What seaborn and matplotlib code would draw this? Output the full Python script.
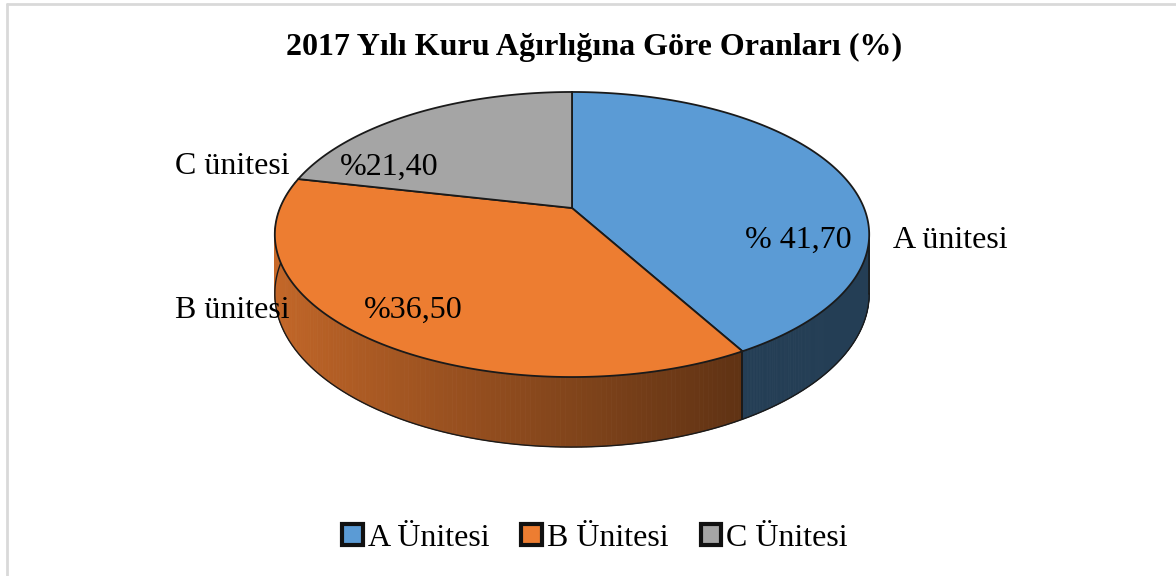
import numpy as np
import seaborn as sns
import matplotlib.pyplot as plt
from matplotlib.patches import Patch
from matplotlib.lines import Line2D

# Data
units = ["A", "B", "C"]
shares = [41.70, 36.50, 21.40]
value_labels = ["% 41,70", "%36,50", "%21,40"]
slice_labels = ["A ünitesi", "B ünitesi", "C ünitesi"]
legend_labels = ["A Ünitesi", "B Ünitesi", "C Ünitesi"]
colors = ["#5b9bd5", "#ed7d31", "#a5a5a5"]

sns.set_style("white")
plt.rcParams['font.family'] = ['Liberation Serif', 'DejaVu Serif']
plt.rcParams['text.color'] = 'black'

W, H = 1176, 576
fig = plt.figure(figsize=(W / 100, H / 100), dpi=100)
ax = fig.add_axes([0, 0, 1, 1])
ax.set_xlim(0, W)
ax.set_ylim(H, 0)
ax.axis("off")

# perspective projection of the unit disc
cx, cy = 572, 208      # apex on screen
a, c = 292, 137.6      # horizontal / depth scale
p = 0.186              # perspective strength
d0 = 57                # thickness of the pie


def project(u, v):
    s = 1.0 / (1.0 + p * v)
    return cx + a * u * s, cy - c * v * s, s


# slice angles: start at 12 o'clock, go clockwise
fracs = np.array(shares) / np.sum(shares)
bounds = 90 - 360 * np.concatenate([[0], np.cumsum(fracs)])

# visible side runs between the two silhouette points
vis_lo = -180 - np.degrees(np.arcsin(p))
vis_hi = -np.degrees(np.arcsin(p))


def shade(u):
    return np.clip(0.84 - 0.44 * (u + 1) / 1.498, 0.40, 0.84)


# side walls
for i, col in enumerate(colors):
    t_hi, t_lo = bounds[i], bounds[i + 1]
    for shift in (0, -360, 360):
        lo = max(t_lo + shift, vis_lo)
        hi = min(t_hi + shift, vis_hi)
        if lo >= hi:
            continue
        th = np.radians(np.linspace(hi, lo, 160))
        X, Y, S = project(np.cos(th), np.sin(th))
        Yb = Y + d0 * S
        rgb = np.array(plt.matplotlib.colors.to_rgb(col))
        for k in range(len(th) - 1):
            um = np.cos((th[k] + th[k + 1]) / 2)
            ax.fill([X[k], X[k + 1], X[k + 1], X[k]],
                    [Y[k], Y[k + 1], Yb[k + 1], Yb[k]],
                    color=rgb * shade(um), lw=0.6,
                    ec=rgb * shade(um), zorder=1)
        ax.plot(X, Yb, color="#1a1a1a", lw=1, zorder=2)
        ax.plot([X[0], X[0]], [Y[0], Yb[0]], color="#1a1a1a", lw=1.2, zorder=2)
        ax.plot([X[-1], X[-1]], [Y[-1], Yb[-1]], color="#1a1a1a", lw=1.2, zorder=2)

# top faces
for i, col in enumerate(colors):
    th = np.radians(np.linspace(bounds[i], bounds[i + 1], 200))
    X, Y, _ = project(np.cos(th), np.sin(th))
    ax.fill(np.r_[cx, X], np.r_[cy, Y], color=col, ec="#1a1a1a", lw=1.3, zorder=3)

# labels
lab_font = 23
val_pos = [(798, 240), (413, 310), (389, 167)]
for txt, (x, y) in zip(value_labels, val_pos):
    ax.text(x, y, txt, ha="center", va="center", fontsize=lab_font, zorder=5)
ax.text(893, 240, slice_labels[0], ha="left", va="center", fontsize=lab_font, zorder=5)
ax.text(290, 310, slice_labels[1], ha="right", va="center", fontsize=lab_font, zorder=5)
ax.text(290, 167, slice_labels[2], ha="right", va="center", fontsize=lab_font, zorder=5)

ax.text(594, 47, "2017 Yılı Kuru Ağırlığına Göre Oranları (%)", ha="center",
        va="center", fontsize=23, fontweight="bold")

handles = [Patch(facecolor=col, edgecolor="#111111", lw=3) for col in colors]
fig.legend(handles, legend_labels, loc="center", bbox_to_anchor=(595 / W, 1 - 538 / H),
           ncol=3, frameon=False, fontsize=lab_font, handlelength=0.65, handleheight=0.65,
           handletextpad=0.15, columnspacing=1.0, borderpad=0)

# chart border
fig.add_artist(Line2D([6.5 / W, 1], [1 - 4 / H, 1 - 4 / H], color="#d9d9d9", lw=2))
fig.add_artist(Line2D([6.5 / W, 6.5 / W], [0, 1 - 4 / H], color="#d9d9d9", lw=2))

fig.savefig("out.png", dpi=100)
